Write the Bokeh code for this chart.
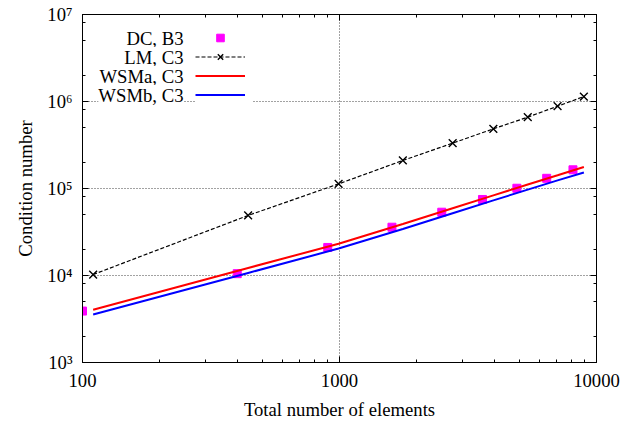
from bokeh.plotting import figure
from bokeh.models import FixedTicker, LogAxis, Legend, LegendItem, Label
from bokeh.core.properties import value
from bokeh.embed import file_html
from bokeh.resources import INLINE

# ---- data ----
dc_elements = [100, 400, 900, 1600, 2500, 3600, 4900, 6400, 8100]
dc_cond = [3900, 10500, 21000, 35900, 53400, 74800, 100700, 131000, 164000]

lm_elements = [110, 441, 992, 1764, 2756, 3969, 5402, 7056, 8930]
lm_cond = [10260, 49000, 113000, 210000, 332000, 485000, 661000, 883000, 1140000]

wsm_elements = [110, 441, 992, 1764, 2756, 3969, 5402, 7056, 8930]
wsma_cond = [4040, 12200, 23200, 39100, 59400, 83400, 111000, 142000, 177000]
wsmb_cond = [3570, 10700, 20400, 34300, 52000, 73000, 97000, 124000, 153000]

x_tick_values = [100, 1000, 10000]
x_tick_labels = ["100", "1000", "10000"]
y_tick_values = [1e3, 1e4, 1e5, 1e6, 1e7]
y_tick_labels = ["10³", "10⁴", "10⁵", "10⁶", "10⁷"]
series_labels = ["DC, B3", "LM, C3", "WSMa, C3", "WSMb, C3"]

FONT = "Liberation Serif"
FS = "18.7px"

p = figure(width=630, height=423, x_axis_type="log", y_axis_type="log",
           x_range=(100, 10000), y_range=(1e3, 1e7),
           output_backend="svg", toolbar_location=None,
           min_border_left=82, min_border_right=34, min_border_top=14, min_border_bottom=61,
           x_axis_label="Total number of elements", y_axis_label="Condition number")
p.background_fill_color = "white"
p.border_fill_color = "white"
p.outline_line_color = "black"
p.outline_line_width = 1

x_ticker = FixedTicker(ticks=x_tick_values,
                       minor_ticks=[m * 10 ** e for e in (2, 3) for m in range(2, 10)])
y_ticker = FixedTicker(ticks=y_tick_values,
                       minor_ticks=[m * 10 ** e for e in range(3, 7) for m in (2, 5, 8)])

p.xaxis.ticker = x_ticker
p.yaxis.ticker = y_ticker
p.xaxis.major_label_overrides = dict(zip(x_tick_values, x_tick_labels))
p.yaxis.major_label_overrides = dict(zip(y_tick_values, y_tick_labels))

def style_axis(ax):
    ax.axis_line_color = "black"
    ax.axis_line_width = 1
    ax.major_tick_line_color = "black"
    ax.minor_tick_line_color = "black"
    ax.major_tick_in = 6
    ax.major_tick_out = 0
    ax.minor_tick_in = 3
    ax.minor_tick_out = 0
    ax.major_label_text_font = FONT
    ax.major_label_text_font_size = FS
    ax.major_label_text_color = "black"
    ax.axis_label_text_font = FONT
    ax.axis_label_text_font_size = FS
    ax.axis_label_text_font_style = "normal"
    ax.axis_label_text_color = "black"

for ax in p.xaxis + p.yaxis:
    style_axis(ax)
p.xaxis.major_label_standoff = 11
p.xaxis.axis_label_standoff = 9
p.yaxis.major_label_standoff = 10
p.yaxis.axis_label_standoff = 8

# mirrored tick-only axes on top and right
for loc, ticker in (("above", x_ticker), ("right", y_ticker)):
    ax = LogAxis(ticker=ticker)
    style_axis(ax)
    ax.major_label_text_font_size = "0px"
    ax.major_label_text_alpha = 0
    ax.major_label_standoff = 0
    p.add_layout(ax, loc)

for g in (p.xgrid, p.ygrid):
    g.grid_line_color = "#444444"
    g.grid_line_dash = "1 2"
    g.grid_line_width = 1

# ---- data renderers ----
dc_r = p.scatter(dc_elements, dc_cond, marker="square", size=8,
                 fill_color="#ff00ff", line_color="#ff00ff")
lm_line = p.line(lm_elements, lm_cond, line_color="black", line_width=1.2, line_dash="4 2")
lm_pts = p.scatter(lm_elements, lm_cond, marker="x", size=11, line_color="black", line_width=1.4)
wa_r = p.line(wsm_elements, wsma_cond, line_color="#ff0000", line_width=2)
wb_r = p.line(wsm_elements, wsmb_cond, line_color="#0000ff", line_width=2)

# ---- legend (gnuplot style: text right-aligned, sample on the right) ----
legend = Legend(items=[
    LegendItem(label=value(" "), renderers=[dc_r]),
    LegendItem(label=value(" "), renderers=[lm_line, lm_pts]),
    LegendItem(label=value(" "), renderers=[wa_r]),
    LegendItem(label=value(" "), renderers=[wb_r]),
], location=(113, 258), glyph_width=50, glyph_height=19, spacing=0, padding=6, margin=0,
    label_standoff=0, label_width=8, label_height=19, label_text_font_size="10px",
    border_line_color=None, background_fill_color="white", background_fill_alpha=1.0)
p.add_layout(legend, "center")

for i, txt in enumerate(series_labels):
    p.add_layout(Label(x=101, y=324 - 19 * i, x_units="screen", y_units="screen",
                       text=txt, text_align="right", text_baseline="middle",
                       text_font=FONT, text_font_size=FS, text_color="black",
                       background_fill_color="white", background_fill_alpha=1.0))

open("out.html", "w").write(file_html(p, INLINE))
